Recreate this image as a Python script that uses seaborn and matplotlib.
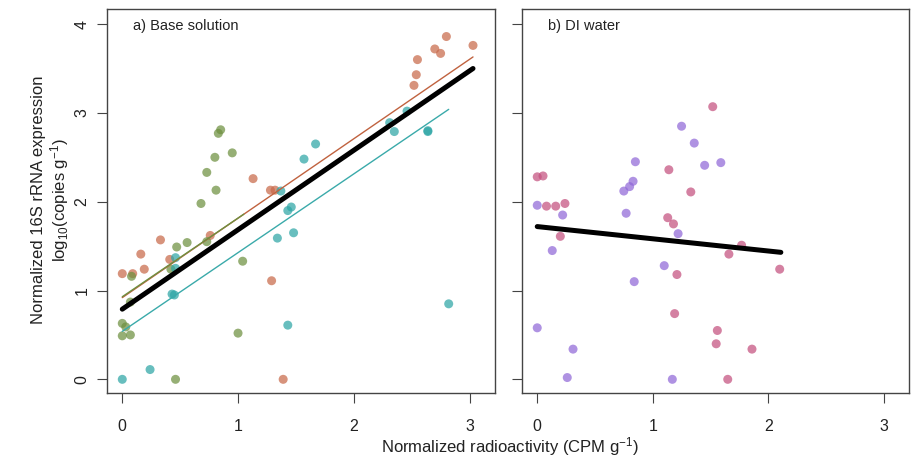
import matplotlib
matplotlib.use("Agg")
import matplotlib.pyplot as plt
import seaborn as sns
import pandas as pd

# ---------------- data ----------------
# Panel a) Base solution
orange_x = [0.00, 0.09, 0.16, 0.19, 0.33, 0.41, 0.76, 1.13, 1.28, 1.32, 1.29, 1.39,
            2.52, 2.54, 2.55, 2.70, 2.75, 2.80, 3.03]
orange_y = [1.19, 1.19, 1.41, 1.24, 1.57, 1.35, 1.62, 2.26, 2.13, 2.13, 1.11, 0.00,
            3.31, 3.43, 3.60, 3.72, 3.67, 3.86, 3.76]
green_x = [0.85, 0.83, 0.95, 0.80, 0.73, 0.81, 0.68, 0.56, 0.47, 0.73, 0.08, 0.42,
           1.04, 0.07, 0.00, 0.03, 0.00, 0.07, 1.00, 0.46]
green_y = [2.81, 2.77, 2.55, 2.50, 2.33, 2.13, 1.98, 1.54, 1.49, 1.55, 1.16, 1.24,
           1.33, 0.87, 0.63, 0.59, 0.49, 0.50, 0.52, 0.00]
teal_x = [0.46, 0.46, 0.43, 0.45, 1.43, 0.24, 0.00, 1.34, 1.37, 1.57, 1.46, 1.43,
          1.48, 1.67, 2.31, 2.35, 2.46, 2.64, 2.64, 2.82]
teal_y = [1.37, 1.25, 0.96, 0.95, 0.61, 0.11, 0.00, 1.59, 2.12, 2.48, 1.94, 1.90,
          1.65, 2.65, 2.89, 2.79, 3.02, 2.79, 2.80, 0.85]

# fitted lines of panel a (end points)
fit_all_x = [0.00, 3.03]
fit_all_y = [0.79, 3.50]
fit_orange_x = [0.00, 3.03]
fit_orange_y = [0.92, 3.63]
fit_green_x = [0.00, 1.05]
fit_green_y = [0.93, 1.86]
fit_teal_x = [0.00, 2.82]
fit_teal_y = [0.54, 3.04]

# Panel b) DI water
pink_x = [0.00, 0.05, 0.08, 0.16, 0.24, 0.20, 1.52, 1.14, 1.33, 1.13, 1.18, 1.21,
          1.19, 1.56, 1.55, 1.77, 1.66, 2.10, 1.86, 1.65]
pink_y = [2.28, 2.29, 1.95, 1.95, 1.98, 1.61, 3.07, 2.36, 2.11, 1.82, 1.75, 1.18,
          0.74, 0.55, 0.40, 1.51, 1.41, 1.24, 0.34, 0.00]
purple_x = [0.00, 0.22, 0.13, 0.00, 0.31, 0.26, 0.85, 0.83, 0.80, 0.75, 0.77, 0.84,
            1.25, 1.36, 1.45, 1.59, 1.22, 1.10, 1.17]
purple_y = [1.96, 1.85, 1.45, 0.58, 0.34, 0.02, 2.45, 2.23, 2.17, 2.12, 1.87, 1.10,
            2.85, 2.66, 2.41, 2.44, 1.64, 1.28, 0.00]
fit_b_x = [0.00, 2.11]
fit_b_y = [1.72, 1.43]

x_ticks = [0, 1, 2, 3]
y_ticks = [0, 1, 2, 3, 4]
panel_titles = ["a) Base solution", "b) DI water"]

# ---------------- styling ----------------
sns.set_theme(style="white")
plt.rcParams["font.family"] = ["Liberation Sans", "DejaVu Sans"]
plt.rcParams["mathtext.fontset"] = "custom"
plt.rcParams["mathtext.rm"] = "Liberation Sans"
plt.rcParams["mathtext.it"] = "Liberation Sans:italic"

colors = {"orange": "#C8694A", "green": "#6E9040", "teal": "#2EA6A6",
          "pink": "#C4507E", "purple": "#9068D8"}
line_colors = {"orange": "#C0623F", "green": "#6E9040", "teal": "#3AAAAA"}

df_a = pd.concat([
    pd.DataFrame({"x": orange_x, "y": orange_y, "g": "orange"}),
    pd.DataFrame({"x": green_x, "y": green_y, "g": "green"}),
    pd.DataFrame({"x": teal_x, "y": teal_y, "g": "teal"}),
], ignore_index=True)
df_b = pd.concat([
    pd.DataFrame({"x": pink_x, "y": pink_y, "g": "pink"}),
    pd.DataFrame({"x": purple_x, "y": purple_y, "g": "purple"}),
], ignore_index=True)

W, H = 917, 459
fig = plt.figure(figsize=(W / 100, H / 100), dpi=100)
ax_a = fig.add_axes([107 / W, (H - 393) / H, (495 - 107) / W, (393 - 9) / H])
ax_b = fig.add_axes([522 / W, (H - 393) / H, (909 - 522) / W, (393 - 9) / H])

pt_size = 42
sns.scatterplot(data=df_a, x="x", y="y", hue="g", palette=colors, s=pt_size,
                alpha=0.72, linewidth=0, legend=False, ax=ax_a, zorder=2)
sns.scatterplot(data=df_b, x="x", y="y", hue="g", palette=colors, s=pt_size,
                alpha=0.72, linewidth=0, legend=False, ax=ax_b, zorder=2)

for lx, ly, c in [(fit_orange_x, fit_orange_y, line_colors["orange"]),
                  (fit_teal_x, fit_teal_y, line_colors["teal"]),
                  (fit_green_x, fit_green_y, line_colors["green"])]:
    sns.lineplot(x=lx, y=ly, color=c, linewidth=1.0, estimator=None, ax=ax_a, zorder=3)
sns.lineplot(x=fit_all_x, y=fit_all_y, color="black", linewidth=3.6,
             estimator=None, ax=ax_a, zorder=4)
sns.lineplot(x=fit_b_x, y=fit_b_y, color="black", linewidth=3.6,
             estimator=None, ax=ax_b, zorder=4)

for ax, title in zip([ax_a, ax_b], panel_titles):
    ax.set_xlim(-0.132, 3.22)
    ax.set_ylim(-0.154, 4.17)
    ax.set_xticks(x_ticks)
    ax.set_yticks(y_ticks)
    ax.set_xlabel("")
    ax.set_ylabel("")
    for sp in ax.spines.values():
        sp.set_color("#444444")
        sp.set_linewidth(1.0)
    ax.tick_params(axis="both", direction="out", length=7.5, width=0.8,
                   color="#444444", labelsize=11.5, labelcolor="#222222",
                   bottom=True, left=True)
    ax.tick_params(axis="x", pad=11)
    ax.tick_params(axis="y", labelrotation=90, pad=5)
    for lab in ax.get_yticklabels():
        lab.set_va("center")
    ax.text(0.066, 0.955, title, transform=ax.transAxes, fontsize=10.5,
            color="#222222", ha="left", va="center")

ax_b.set_yticklabels([])

fig.text(510 / W, 1 - 447 / H, "Normalized radioactivity (CPM g$^{-1}$)",
         ha="center", va="center", fontsize=12, color="#222222")
fig.text(51 / W, 1 - 200 / H,
         "Normalized 16S rRNA expression\nlog$_{10}$(copies g$^{-1}$)",
         ha="center", va="center", rotation=90, fontsize=12, color="#222222",
         multialignment="center", linespacing=1.1)

fig.savefig("out.png", dpi=100, facecolor="white")
